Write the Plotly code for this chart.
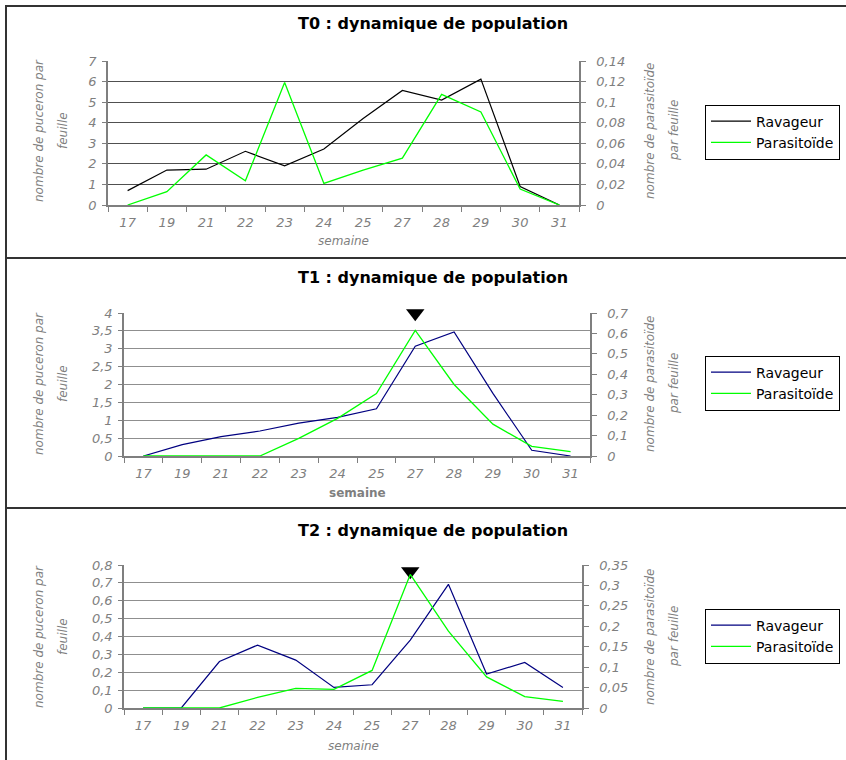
import plotly.graph_objects as go

weeks = ["17", "19", "21", "22", "23", "24", "25", "27", "28", "29", "30", "31"]

t0_ravageur = [0.7, 1.7, 1.74, 2.61, 1.9, 2.72, 4.2, 5.57, 5.1, 6.12, 0.9, 0.0]
t0_parasitoide = [0.0, 0.013, 0.0487, 0.0235, 0.119, 0.021, 0.034, 0.0455, 0.1075, 0.0905, 0.0155, 0.0]

t1_ravageur = [0.0, 0.32, 0.54, 0.70, 0.92, 1.08, 1.32, 3.07, 3.47, 1.75, 0.16, 0.0]
t1_parasitoide = [0.0, 0.0, 0.0, 0.0, 0.086, 0.184, 0.306, 0.615, 0.35, 0.156, 0.047, 0.021]

t2_ravageur = [0.0, 0.0, 0.26, 0.352, 0.268, 0.115, 0.13, 0.38, 0.692, 0.19, 0.255, 0.115]
t2_parasitoide = [0.0, 0.0, 0.0, 0.026, 0.048, 0.0456, 0.092, 0.327, 0.188, 0.076, 0.028, 0.016]

arrow_week = "27"

titles = ["T0 : dynamique de population", "T1 : dynamique de population", "T2 : dynamique de population"]
x_title = "semaine"
left_title = ["nombre de puceron par", "feuille"]
right_title = ["nombre de parasitoïde", "par feuille"]
series_names = ["Ravageur", "Parasitoïde"]

W, H = 846, 760
FONT = "DejaVu Sans"
GRAY = "#7f7f7f"


def px(v):
    return v / W


def py(v):
    return 1 - v / H


fig = go.Figure()

panels = [
    dict(rav=t0_ravageur, par=t0_parasitoide, rav_color="#000000",
         xdom=(108, 579), ydom=(61, 205), yr=(0, 7), ydt=1, y2r=(0, 0.14), y2dt=0.02,
         grid="#505050", top=6, bottom=258, title_y=24, xt_y=241, xt_bold=False,
         yt_c=131, leg_c=132, arrow=None),
    dict(rav=t1_ravageur, par=t1_parasitoide, rav_color="#000080",
         xdom=(124, 590), ydom=(313, 456), yr=(0, 4), ydt=0.5, y2r=(0, 0.7), y2dt=0.1,
         grid="#8f8f8f", top=258, bottom=508, title_y=277, xt_y=493, xt_bold=True,
         yt_c=384, leg_c=383, arrow=3.995),
    dict(rav=t2_ravageur, par=t2_parasitoide, rav_color="#000080",
         xdom=(124, 582), ydom=(565, 708), yr=(0, 0.8), ydt=0.1, y2r=(0, 0.35), y2dt=0.05,
         grid="#8f8f8f", top=508, bottom=775, title_y=530, xt_y=746, xt_bold=False,
         yt_c=637, leg_c=636, arrow=0.765),
]

annotations = []
shapes = []
layout = {}

for i, p in enumerate(panels):
    n = i + 1
    xa = "x" if n == 1 else f"x{n}"
    ya = f"y{2 * n - 1}" if n > 1 else "y"
    ya2 = f"y{2 * n}"
    leg = "legend" if n == 1 else f"legend{n}"

    fig.add_trace(go.Scatter(x=weeks, y=p["rav"], name=series_names[0], mode="lines",
                             line=dict(color=p["rav_color"], width=1.2),
                             xaxis=xa, yaxis=ya, legend=leg))
    fig.add_trace(go.Scatter(x=weeks, y=p["par"], name=series_names[1], mode="lines",
                             line=dict(color="#00ff00", width=1.3),
                             xaxis=xa, yaxis=ya2, legend=leg))
    if p["arrow"] is not None:
        fig.add_trace(go.Scatter(x=[arrow_week], y=[p["arrow"]], mode="markers",
                                 marker=dict(symbol="triangle-down", size=16, color="black"),
                                 cliponaxis=False, showlegend=False, hoverinfo="skip",
                                 xaxis=xa, yaxis=ya))

    tickfont = dict(family=FONT, size=13, color=GRAY, style="italic")
    xkey = "xaxis" if n == 1 else f"xaxis{n}"
    ykey = "yaxis" if n == 1 else f"yaxis{2 * n - 1}"
    y2key = f"yaxis{2 * n}"
    layout[xkey] = dict(domain=[px(p["xdom"][0]), px(p["xdom"][1])], anchor=ya,
                        type="category", range=[-0.5, len(weeks) - 0.5],
                        tickson="boundaries", ticks="outside", ticklen=5, tickcolor=GRAY,
                        showline=True, linecolor=GRAY, linewidth=1.5, showgrid=False,
                        tickfont=tickfont, ticklabelstandoff=5, layer="below traces",
                        fixedrange=True)
    layout[ykey] = dict(domain=[py(p["ydom"][1]), py(p["ydom"][0])], anchor=xa,
                        range=list(p["yr"]), dtick=p["ydt"], tick0=0, ticks="outside",
                        ticklen=4, tickcolor=GRAY, showline=True, linecolor=GRAY, linewidth=1.5,
                        showgrid=True, gridcolor=p["grid"], gridwidth=1, zeroline=False,
                        tickfont=tickfont, ticklabelstandoff=3, fixedrange=True)
    layout[y2key] = dict(overlaying=ya, side="right", anchor=xa,
                         range=list(p["y2r"]), dtick=p["y2dt"], tick0=0, ticks="outside",
                         ticklen=5, tickcolor=GRAY, showline=True, linecolor=GRAY, linewidth=1.5,
                         showgrid=False, zeroline=False, tickfont=tickfont,
                         ticklabelstandoff=8, fixedrange=True)
    layout[leg] = dict(x=px(705), y=py(p["leg_c"]), xanchor="left", yanchor="middle",
                       bordercolor="#000000", borderwidth=1, bgcolor="white",
                       font=dict(family=FONT, size=14, color="black"),
                       itemwidth=40, tracegroupgap=0)

    # panel frame
    shapes.append(dict(type="rect", xref="paper", yref="paper",
                       x0=px(6), x1=px(W + 10), y0=py(p["bottom"]), y1=py(p["top"]),
                       line=dict(color="#333333", width=2), fillcolor="rgba(0,0,0,0)", layer="below"))

    cx = (p["xdom"][0] + p["xdom"][1]) / 2
    annotations.append(dict(text=f"<b>{titles[i]}</b>", x=px(433), y=py(p["title_y"]),
                            xref="paper", yref="paper", showarrow=False,
                            xanchor="center", yanchor="middle",
                            font=dict(family=FONT, size=16, color="black")))
    xt = f"<b>{x_title}</b>" if p["xt_bold"] else x_title
    annotations.append(dict(text=xt, x=px(cx), y=py(p["xt_y"]), xref="paper", yref="paper",
                            showarrow=False, xanchor="center", yanchor="middle",
                            font=dict(family=FONT, size=12, color=GRAY,
                                      style="normal" if p["xt_bold"] else "italic")))
    for xc, t in zip((39, 63), left_title):
        annotations.append(dict(text=t, x=px(xc), y=py(p["yt_c"]), xref="paper", yref="paper",
                                showarrow=False, textangle=-90, xanchor="center", yanchor="middle",
                                font=dict(family=FONT, size=12, color=GRAY, style="italic")))
    for xc, t in zip((650, 674), right_title):
        annotations.append(dict(text=t, x=px(xc), y=py(p["yt_c"]), xref="paper", yref="paper",
                                showarrow=False, textangle=-90, xanchor="center", yanchor="middle",
                                font=dict(family=FONT, size=12, color=GRAY, style="italic")))

fig.update_layout(
    width=W, height=H,
    margin=dict(l=0, r=0, t=0, b=0, autoexpand=False),
    paper_bgcolor="white", plot_bgcolor="white",
    separators=", ",
    showlegend=True,
    annotations=annotations,
    shapes=shapes,
    **layout,
)

fig.write_html("out.html", config={"displayModeBar": False},
               post_script="document.body.style.margin='0px';")
